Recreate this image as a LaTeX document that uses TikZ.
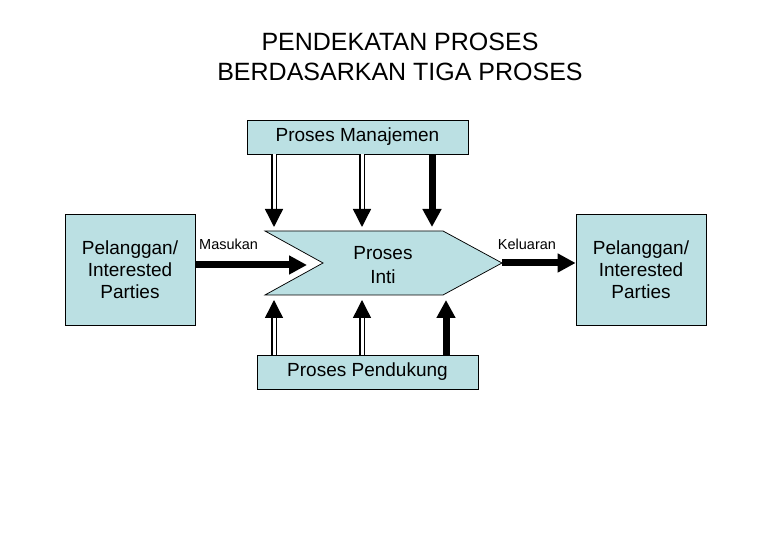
\documentclass[tikz,border=0pt]{standalone}
\usepackage{fontspec}
\setmainfont{Liberation Sans}
\usetikzlibrary{arrows.meta, positioning, calc}
\definecolor{boxblue}{RGB}{187,224,227}

\begin{document}
\begin{tikzpicture}[x=1pt, y=1pt, > = {Triangle[width=18pt, length=18pt]},
    box/.style = {draw, line width=0.75pt, fill=boxblue, align=center, inner sep=0pt, font=\fontsize{19}{22}\selectfont},
    hollow/.style = {->, double=white, double distance=3pt, line width=1.4pt},
    fat/.style = {->, line width=7pt},
    lbl/.style = {font=\fontsize{14.5}{17}\selectfont, inner sep=0pt}]
    \useasboundingbox (0,0) rectangle (780,540);
    \node[font=\fontsize{25}{30}\selectfont, align=center]	(title)	at (400,483)	{PENDEKATAN PROSES\\BERDASARKAN TIGA PROSES};
    \node[box, minimum width=130pt, minimum height=111pt]	(cust)	at (130,270.5)	{Pelanggan/\\Interested\\Parties};
    \node[box, minimum width=130pt, minimum height=111pt]	(cust2)	at (641,270.5)	{Pelanggan/\\Interested\\Parties};
    \node[box, minimum width=221pt, minimum height=34pt]	(mgmt)	at (357.5,403)	{Proses Manajemen};
    \node[box, minimum width=221pt, minimum height=34pt]	(supp)	at (367.5,168)	{Proses Pendukung};
    % proses inti
    \coordinate (tip) at (502,277);
    \coordinate (notch) at (323,277);
    \draw[line width=0.75pt, fill=boxblue] (265,309) -- (443,309) -- (tip) -- (443,245) -- (265,245) -- (notch) -- cycle;
    \node[align=center, font=\fontsize{19}{24}\selectfont]	(core)	at (383,275)	{Proses\\Inti};
    \coordinate (in) at (307,275);
    \coordinate (t1) at (274,313);
    \coordinate (t2) at (362,313);
    \coordinate (t3) at (432,313);
    \coordinate (b1) at (274,240);
    \coordinate (b2) at (362,240);
    \coordinate (b3) at (446,240);
    \draw[fat]		(cust.east |- in)	--	(in);
    \draw[fat]		(tip)	--	(cust2.west |- tip);
    \draw[hollow]	(mgmt.south -| t1)	--	(t1);
    \draw[hollow]	(mgmt.south -| t2)	--	(t2);
    \draw[fat]		(mgmt.south -| t3)	--	(t3);
    \draw[hollow]	(supp.north -| b1)	--	(b1);
    \draw[hollow]	(supp.north -| b2)	--	(b2);
    \draw[fat]		(supp.north -| b3)	--	(b3);
    \node[lbl, anchor=west]	(inlbl)	at (199,296)	{Masukan};
    \node[lbl]				(outlbl)	at (527,296)	{Keluaran};
\end{tikzpicture}
\end{document}
